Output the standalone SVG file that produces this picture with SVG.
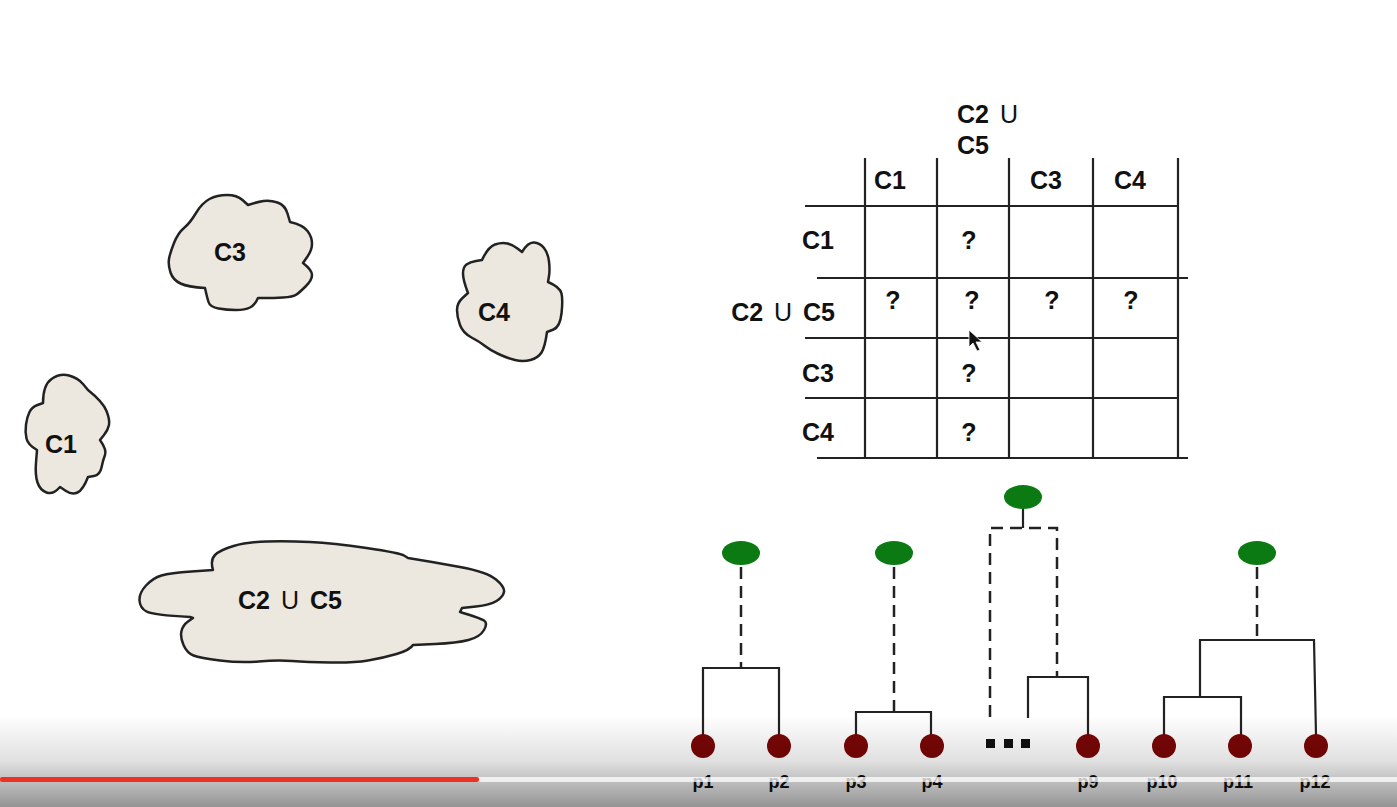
<svg xmlns="http://www.w3.org/2000/svg" width="1397" height="807" viewBox="0 0 1397 807">
<defs>
<linearGradient id="shade" x1="0" y1="0" x2="0" y2="1">
<stop offset="0" stop-color="#000" stop-opacity="0"/>
<stop offset="0.5" stop-color="#000" stop-opacity="0.12"/>
<stop offset="1" stop-color="#000" stop-opacity="0.42"/>
</linearGradient>
</defs>
<style>
.cloud{fill:#ece8df;stroke:#222;stroke-width:2.5;stroke-linejoin:round}
.lbl{font-family:"Liberation Sans",Arial,sans-serif;font-weight:bold;font-size:25px;fill:#111;word-spacing:4px}
.u{font-weight:normal}
.q{font-family:"Liberation Sans",Arial,sans-serif;font-weight:bold;font-size:25px;fill:#111;text-anchor:middle}
.grid{stroke:#222;stroke-width:2.2;fill:none}
.solid{stroke:#222;stroke-width:2.2;fill:none}
.dash{stroke:#222;stroke-width:2.5;fill:none;stroke-dasharray:12 7}
.g{fill:#0b7a12}
.r{fill:#7a0606}
.p{font-family:"Liberation Sans",Arial,sans-serif;font-weight:bold;font-size:18px;fill:#111;text-anchor:middle}
</style>
<rect width="1397" height="807" fill="#fff"/>

<g id="cloud-C3">
<path class="cloud" d="M 184,228 Q 190,223 196,213 Q 202,203 209.5,199 Q 217,195 227,195 Q 237,195 242.5,200 L 248,205 Q 257,202 263.5,201 Q 270,200 277.5,202.5 Q 285,205 287.5,213.5 L 290,222 Q 303,225 307.5,231 Q 312,237 312,243.5 Q 312,250 307.5,256.5 L 303,263 Q 312,270 312,275 Q 312,280 306,286 Q 300,292 296.5,294.5 Q 293,297 283,297.5 Q 273,298 265.5,298 L 258,298 Q 255,305 250,307.5 Q 245,310 236,310 Q 227,310 218.5,308.5 Q 210,307 208.5,302 Q 207,297 206,292.5 L 205,288 Q 188,287 180.5,283.5 Q 173,280 170.5,272.5 Q 168,265 169,259 Q 170,253 174,243 Q 178,233 184,228 Z"/>
<text class="lbl" x="230" y="261" text-anchor="middle">C3</text>
</g>
<g id="cloud-C4">
<path class="cloud" d="M 468,293 Q 463,280 463,273.5 Q 463,267 466.5,264.5 Q 470,262 476,261 L 482,260 Q 488,247 495,244.5 Q 502,242 507.5,243.5 Q 513,245 517.5,248.5 L 522,252 Q 528,242 534,242.5 Q 540,243 544,248 Q 548,253 549,261.5 Q 550,270 549,276 L 548,282 Q 560,287 561.5,293.5 Q 563,300 561.5,313.5 Q 560,327 553.5,329.5 L 547,332 Q 545,347 541.5,352.5 Q 538,358 530.5,360 Q 523,362 515,360 Q 507,358 498.5,354 Q 490,350 485,346 Q 480,342 471.5,337.5 Q 463,333 460,325 Q 457,317 457,310 Q 457,303 462.5,298 Z"/>
<text class="lbl" x="494" y="321" text-anchor="middle">C4</text>
</g>
<g id="cloud-C1">
<path class="cloud" d="M 43,403 Q 43,385 51.5,379 Q 60,373 69,375.5 Q 78,378 83,384 L 88,390 Q 103,402 106.5,411 Q 110,420 109,425 Q 108,430 104,435 L 100,440 Q 107,450 105,455 Q 103,460 101.5,467.5 Q 100,475 94,476 L 88,477 Q 83,490 77.5,492.5 Q 72,495 66,491 L 60,487 Q 53,495 46.5,492.5 Q 40,490 37.5,482.5 Q 35,475 36,462.5 L 37,450 Q 28,445 26.5,438.5 Q 25,432 26,424.5 Q 27,417 29.5,412 Q 32,407 37.5,405 Z"/>
<text class="lbl" x="61" y="453" text-anchor="middle">C1</text>
</g>
<g id="cloud-C2C5">
<path class="cloud" d="M 213,570 Q 210,560 215,555 Q 220,550 233.5,546 Q 247,542 267,541.5 Q 287,541 310,542 Q 333,543 366.5,548 Q 400,553 404,555.5 L 408,558 Q 433,562 460,567 Q 487,572 496,579.5 Q 505,587 504,592 Q 503,597 496.5,601 Q 490,605 476,606.5 L 462,608 L 460,612 Q 480,618 484,620.5 Q 488,623 484,630 Q 480,637 468.5,640 Q 457,643 435,644 L 413,645 Q 410,650 396.5,654 Q 383,658 368,660.5 Q 353,663 330,662.5 Q 307,662 292,661 Q 277,660 258.5,661.5 Q 240,663 220,660.5 Q 200,658 193.5,655.5 Q 187,653 183.5,645 Q 180,637 181.5,631 Q 183,625 188,621.5 L 193,618 L 190,617 Q 153,615 146.5,611.5 Q 140,608 139.5,600.5 Q 139,593 146,585.5 Q 153,578 161.5,575.5 Q 170,573 191.5,571.5 Z"/>
<text class="lbl" x="290" y="609" text-anchor="middle">C2 <tspan class="u">U</tspan> C5</text>
</g>

<g id="matrix">
<g class="grid">
<line x1="865" y1="158" x2="865" y2="458"/>
<line x1="937" y1="158" x2="937" y2="458"/>
<line x1="1009" y1="158" x2="1009" y2="458"/>
<line x1="1093" y1="158" x2="1093" y2="458"/>
<line x1="1178" y1="158" x2="1178" y2="458"/>
<line x1="805" y1="206" x2="1178" y2="206"/>
<line x1="817" y1="278" x2="1188" y2="278"/>
<line x1="805" y1="338" x2="1178" y2="338"/>
<line x1="805" y1="398" x2="1178" y2="398"/>
<line x1="817" y1="458" x2="1188" y2="458"/>
</g>
<text class="lbl" x="957" y="123">C2 <tspan class="u">U</tspan></text>
<text class="lbl" x="957" y="154">C5</text>
<text class="lbl" x="890" y="189" text-anchor="middle">C1</text>
<text class="lbl" x="1046" y="189" text-anchor="middle">C3</text>
<text class="lbl" x="1130" y="189" text-anchor="middle">C4</text>
<text class="lbl" x="834" y="249" text-anchor="end">C1</text>
<text class="lbl" x="835" y="321" text-anchor="end">C2 <tspan class="u">U</tspan> C5</text>
<text class="lbl" x="834" y="382" text-anchor="end">C3</text>
<text class="lbl" x="834" y="441" text-anchor="end">C4</text>
<text class="q" x="969" y="249">?</text>
<text class="q" x="893" y="309">?</text>
<text class="q" x="972" y="309">?</text>
<text class="q" x="1052" y="309">?</text>
<text class="q" x="1131" y="309">?</text>
<text class="q" x="969" y="382">?</text>
<text class="q" x="969" y="441">?</text>
<path d="M969,330 L969,347 L973,343 L977,351 L980,350 L976,342 L982,342 Z" fill="#111" stroke="#fff" stroke-width="0.8"/>
</g>

<g id="connectors">
<line class="dash" x1="741" y1="567" x2="741" y2="668"/>
<path class="solid" d="M703,735 L703,668 L779,668 L779,735"/>
<line class="dash" x1="894" y1="567" x2="894" y2="712"/>
<path class="solid" d="M856,735 L856,712 L931,712 L931,735"/>
<line class="solid" x1="1023" y1="509" x2="1023" y2="528"/>
<path class="dash" d="M990,717 L990,528 L1057,528 L1057,677"/>
<path class="solid" d="M1028,718 L1028,677 L1088,677 L1088,735"/>
<line class="dash" x1="1257" y1="567" x2="1257" y2="640"/>
<path class="solid" d="M1200,697 L1200,640 L1314,640 L1316,735"/>
<path class="solid" d="M1164,735 L1164,697 L1241,697 L1241,735"/>
</g>

<g id="root-nodes">
<ellipse class="g" cx="741" cy="553" rx="19" ry="12"/>
<ellipse class="g" cx="894" cy="553" rx="19" ry="12"/>
<ellipse class="g" cx="1023" cy="497" rx="19" ry="12"/>
<ellipse class="g" cx="1257" cy="553" rx="19" ry="12"/>
</g>
<g id="leaf-nodes">
<ellipse class="r" cx="703" cy="746" rx="12" ry="12"/>
<ellipse class="r" cx="779" cy="746" rx="12" ry="12"/>
<ellipse class="r" cx="856" cy="746" rx="12" ry="12"/>
<ellipse class="r" cx="932" cy="746" rx="12" ry="12"/>
<ellipse class="r" cx="1088" cy="746" rx="12" ry="12"/>
<ellipse class="r" cx="1164" cy="746" rx="12" ry="12"/>
<ellipse class="r" cx="1240" cy="746" rx="12" ry="12"/>
<ellipse class="r" cx="1316" cy="746" rx="12" ry="12"/>
<rect x="986" y="739" width="9" height="9" fill="#111"/>
<rect x="1004" y="739" width="9" height="9" fill="#111"/>
<rect x="1021" y="739" width="9" height="9" fill="#111"/>
<text class="p" x="703" y="788">p1</text>
<text class="p" x="779" y="788">p2</text>
<text class="p" x="856" y="788">p3</text>
<text class="p" x="932" y="788">p4</text>
<text class="p" x="1088" y="788">p9</text>
<text class="p" x="1162" y="788">p10</text>
<text class="p" x="1238" y="788">p11</text>
<text class="p" x="1315" y="788">p12</text>
</g>

<g id="player-bar">
<rect x="0" y="715" width="1397" height="92" fill="url(#shade)"/>
<rect x="477" y="777" width="920" height="5" fill="#fff" fill-opacity="0.75"/>
<rect x="0" y="777" width="479" height="5" rx="2" fill="#ee3124"/>
</g>
</svg>
